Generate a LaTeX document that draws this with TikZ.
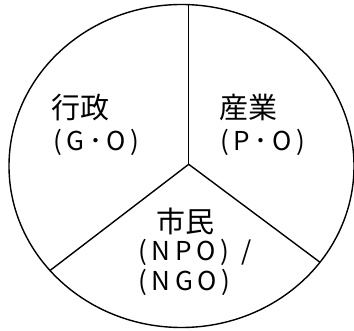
\documentclass[tikz,border=0pt]{standalone}
\usepackage{fontspec}
\usetikzlibrary{calc}
\setmainfont{Noto Sans CJK JP}
\newfontfamily\jpfont{Noto Sans CJK JP}
\newfontfamily\latfont[LetterSpace=18]{Noto Sans CJK JP}
\tikzset{
  kanji/.style={inner sep=0pt, anchor=west, font=\jpfont\fontsize{29}{30}\selectfont},
  abbr/.style={inner sep=0pt, anchor=west, font=\latfont\fontsize{26}{28}\selectfont},
  pie/.style={line width=1.4pt, black}
}
\begin{document}
\begin{tikzpicture}[x=1pt,y=-1pt]
\useasboundingbox (0,0) rectangle (354,331);
\coordinate (c) at (188.7,164.3);
\coordinate (ec) at (181.5,166);
\coordinate (lft) at (52,269);
\coordinate (rgt) at (321,263);
\begin{scope}
  \clip (ec) ellipse [x radius=172.5, y radius=161.5];
  \draw[pie] (c) -- ++(0,-200);
  \draw[pie] (c) -- ($(c)!1.6!(lft)$);
  \draw[pie] (c) -- ($(c)!1.6!(rgt)$);
\end{scope}
\draw[pie] (ec) ellipse [x radius=172.5, y radius=161.5];
\node[kanji] (gyosei) at (51,107.5) {行政};
\node[abbr] (go) at (53,142.5) {(G･O)};
\node[kanji] (sangyo) at (219,107.5) {産業};
\node[abbr] (po) at (220,142.5) {(P･O)};
\node[kanji] (shimin) at (156,221) {市民};
\node[abbr] (npo) at (138,252) {(NPO)\hspace{12pt}/};
\node[abbr] (ngo) at (138,282.5) {(NGO)};
\end{tikzpicture}
\end{document}
